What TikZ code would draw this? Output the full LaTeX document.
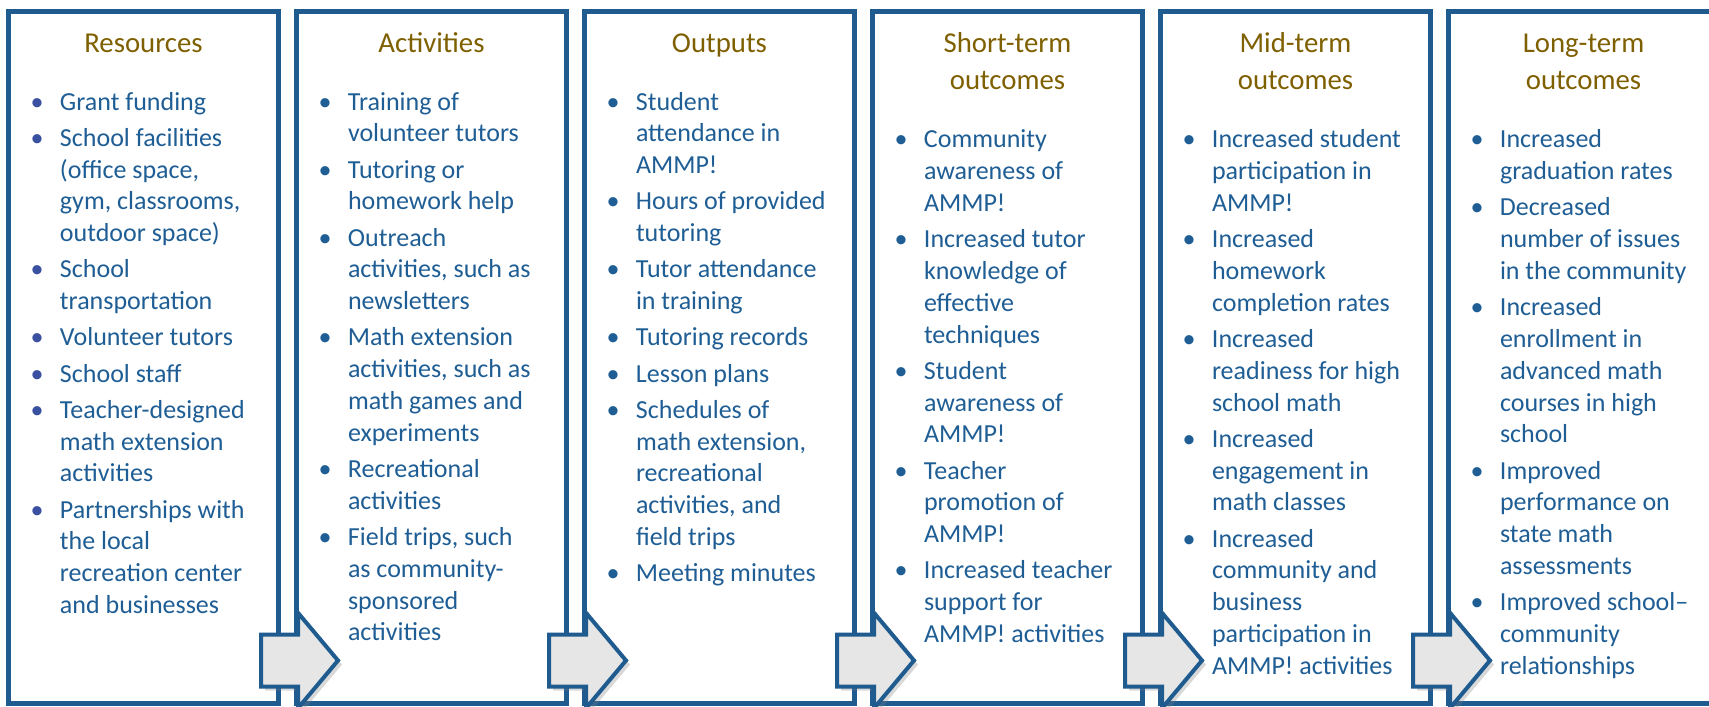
\documentclass[tikz,border=0pt]{standalone}
\usepackage{fontspec}
\setmainfont{Carlito}
\usepackage{xcolor}
\usepackage{tikz}
\usetikzlibrary{shapes.arrows, positioning, shadows}
\definecolor{boxblue}{HTML}{1F5B8E}
\definecolor{textblue}{HTML}{1F5E95}
\definecolor{headgold}{HTML}{7F6000}
\definecolor{arrowgray}{HTML}{E6E6E6}
\definecolor{dotblue}{HTML}{3A50A0}
\tikzstyle{colbox} = [draw=boxblue, line width=2.5pt, fill=white, minimum width=135pt, minimum height=346.25pt, inner sep=0pt, outer sep=0pt, drop shadow={shadow xshift=1.2pt, shadow yshift=-1.2pt, opacity=0.18}]
\tikzstyle{headtxt} = [anchor=north, text width=130pt, align=center, inner sep=0pt, outer sep=0pt, text=headgold, font=\fontsize{14.4}{18.85}\selectfont]
\tikzstyle{listtxt} = [inner sep=0pt, outer sep=0pt, text=textblue, font=\fontsize{13}{15.9}\selectfont]
\tikzstyle{blockarrow} = [single arrow, draw=boxblue, fill=arrowgray, line width=2pt, anchor=tail, minimum height=38.5pt, inner xsep=0pt, inner ysep=12pt, text width=0pt, text height=0pt, text depth=0pt, single arrow head extend=10.75pt, single arrow tip angle=100, single arrow head indent=0pt, drop shadow={shadow xshift=2pt, shadow yshift=-2pt, opacity=0.3}]
\newcommand{\bl}{\hspace*{14.25pt}\makebox[0pt]{\textbullet}}
\newcommand{\blp}{\hspace*{14.25pt}\makebox[0pt]{\color{dotblue}\textbullet}}
\newenvironment{items}{\begin{tabular}{@{}p{25.75pt}@{}p{109.25pt}@{}}}{\end{tabular}}

\begin{document}
\begin{tikzpicture}[x=0.5pt, y=-0.5pt]
    \useasboundingbox (0,0) rectangle (1709,707);
    \clip (0,0) rectangle (1709,707);
    % columns
    \node[colbox] (res) at (143.5,357.25) {};
    \node[colbox, right=9pt of res] (act) {};
    \node[colbox, right=9pt of act] (outp) {};
    \node[colbox, right=9pt of outp] (short) {};
    \node[colbox, right=9pt of short] (mid) {};
    \node[colbox, right=9pt of mid] (long) {};
    % headings
    \node[headtxt] (resH) at ([yshift=-7.4pt]res.north) {\strut Resources\strut};
    \node[headtxt] (actH) at ([yshift=-7.4pt]act.north) {\strut Activities\strut};
    \node[headtxt] (outpH) at ([yshift=-7.4pt]outp.north) {\strut Outputs\strut};
    \node[headtxt] (shortH) at ([yshift=-7.4pt]short.north) {\strut Short-term\\outcomes\strut};
    \node[headtxt] (midH) at ([yshift=-7.4pt]mid.north) {\strut Mid-term\\outcomes\strut};
    \node[headtxt] (longH) at ([yshift=-7.4pt]long.north) {\strut Long-term\\outcomes\strut};
    % lists
    \node[listtxt, below=12.2pt of resH] (resL) {\begin{items}
        \blp & Grant funding\\[2.2pt]
        \blp & School facilities\newline (office space,\newline gym, classrooms,\newline outdoor space)\\[2.2pt]
        \blp & School\newline transportation\\[2.2pt]
        \blp & Volunteer tutors\\[2.2pt]
        \blp & School staff\\[2.2pt]
        \blp & Teacher-designed\newline math extension\newline activities\\[2.2pt]
        \blp & Partnerships with\newline the local\newline recreation center\newline and businesses
    \end{items}};
    \node[listtxt, below=12.2pt of actH] (actL) {\begin{items}
        \bl & Training of\newline volunteer tutors\\[2.2pt]
        \bl & Tutoring or\newline homework help\\[2.2pt]
        \bl & Outreach\newline activities, such as\newline newsletters\\[2.2pt]
        \bl & Math extension\newline activities, such as\newline math games and\newline experiments\\[2.2pt]
        \bl & Recreational\newline activities\\[2.2pt]
        \bl & Field trips, such\newline as community-\newline sponsored\newline activities
    \end{items}};
    \node[listtxt, below=12.2pt of outpH] (outpL) {\begin{items}
        \bl & Student\newline attendance in\newline AMMP!\\[2.2pt]
        \bl & Hours of provided\newline tutoring\\[2.2pt]
        \bl & Tutor attendance\newline in training\\[2.2pt]
        \bl & Tutoring records\\[2.2pt]
        \bl & Lesson plans\\[2.2pt]
        \bl & Schedules of\newline math extension,\newline recreational\newline activities, and\newline field trips\\[2.2pt]
        \bl & Meeting minutes
    \end{items}};
    \node[listtxt, below=12.2pt of shortH] (shortL) {\begin{items}
        \bl & Community\newline awareness of\newline AMMP!\\[2.2pt]
        \bl & Increased tutor\newline knowledge of\newline effective\newline techniques\\[2.2pt]
        \bl & Student\newline awareness of\newline AMMP!\\[2.2pt]
        \bl & Teacher\newline promotion of\newline AMMP!\\[2.2pt]
        \bl & Increased teacher\newline support for\newline AMMP! activities
    \end{items}};
    \node[listtxt, below=12.2pt of midH] (midL) {\begin{items}
        \bl & Increased student\newline participation in\newline AMMP!\\[2.2pt]
        \bl & Increased\newline homework\newline completion rates\\[2.2pt]
        \bl & Increased\newline readiness for high\newline school math\\[2.2pt]
        \bl & Increased\newline engagement in\newline math classes\\[2.2pt]
        \bl & Increased\newline community and\newline business\newline participation in\newline AMMP! activities
    \end{items}};
    \node[listtxt, below=12.2pt of longH] (longL) {\begin{items}
        \bl & Increased\newline graduation rates\\[2.2pt]
        \bl & Decreased\newline number of issues\newline in the community\\[2.2pt]
        \bl & Increased\newline enrollment in\newline advanced math\newline courses in high\newline school\\[2.2pt]
        \bl & Improved\newline performance on\newline state math\newline assessments\\[2.2pt]
        \bl & Improved school–\newline community\newline relationships
    \end{items}};
    % arrows between columns
    \node[blockarrow] (a1) at ([xshift=-9.75pt, yshift=21.5pt]res.south east) {};
    \node[blockarrow] (a2) at ([xshift=-9.75pt, yshift=21.5pt]act.south east) {};
    \node[blockarrow] (a3) at ([xshift=-9.75pt, yshift=21.5pt]outp.south east) {};
    \node[blockarrow] (a4) at ([xshift=-9.75pt, yshift=21.5pt]short.south east) {};
    \node[blockarrow] (a5) at ([xshift=-9.75pt, yshift=21.5pt]mid.south east) {};
\end{tikzpicture}
\end{document}
